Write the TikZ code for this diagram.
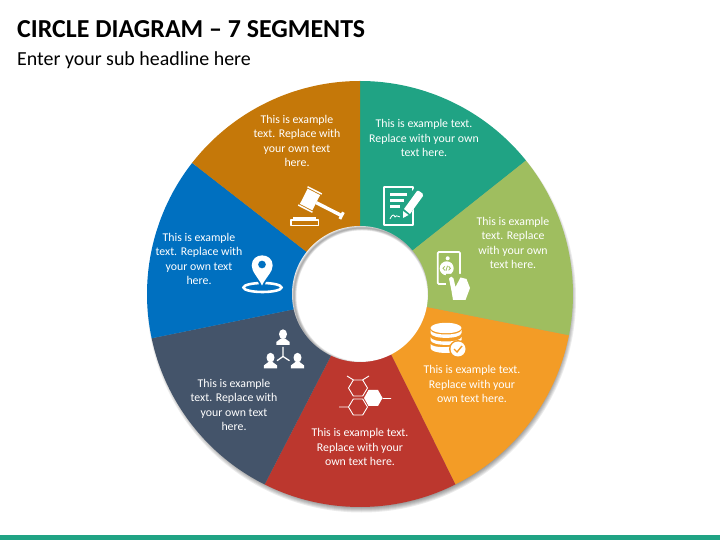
\documentclass[tikz,border=0pt]{standalone}
\usepackage{fontspec}
\setmainfont{Carlito}
\usetikzlibrary{calc}
\definecolor{segteal}{HTML}{20A384}
\definecolor{seggreen}{HTML}{9FBE5F}
\definecolor{segorange}{HTML}{F39C26}
\definecolor{segred}{HTML}{BC372E}
\definecolor{segnavy}{HTML}{44546A}
\definecolor{segblue}{HTML}{0070C0}
\definecolor{segbrown}{HTML}{C57809}
\tikzset{>=latex,
  seglabel/.style={text=white, align=center, font=\fontsize{10.1}{12.2}\selectfont, inner sep=0pt},
  iconfill/.style={fill=white, draw=none},
  iconline/.style={draw=white, line width=1.1pt, line join=round}}
\begin{document}
\begin{tikzpicture}[x=0.03cm, y=-0.03cm]
\useasboundingbox (0,0) rectangle (720,540);
\coordinate (ctr) at (360,294);
% title and bar
\node[anchor=west, inner sep=0pt, font=\fontsize{22.1}{26}\selectfont\bfseries] (title) at (17,29) {CIRCLE DIAGRAM -- 7 SEGMENTS};
\node[anchor=west, inner sep=0pt, font=\fontsize{17}{20}\selectfont] (subtitle) at (17,60) {Enter your sub headline here};
\fill[segteal] (0,534.5) rectangle (720,540);
% soft shadow of the ring
\foreach \i in {0,...,5}
  \fill[black, opacity=0.08] (361.5,298) circle (209.5+\i);
% the seven segments
\foreach \ao/\ai/\bo/\bi/\col in {90/90/38.8/40/segteal, 38.8/40/-11.2/-11/seggreen, -11.2/-11/-63.4/-62.5/segorange, -63.4/-62.5/-116.6/-114.4/segred, -116.6/-114.4/-168/-166.4/segnavy, -168/-166.4/-218/-218.4/segblue, -218/-218.4/-270/-270/segbrown}
  \fill[\col] ($(ctr)+(\ai:50 and -50)$) -- ($(ctr)+(\ao:213 and -213)$) arc[start angle=\ao, end angle=\bo, x radius=213, y radius=-213] -- ($(ctr)+(\bi:50 and -50)$) -- cycle;
% hole with inner shadow
\fill[white] (ctr) circle (68);
\begin{scope}
\clip (ctr) circle (68);
\foreach \i in {1,...,5}
  \draw[black, opacity=0.07, line width=\i*0.85pt] (362,296) circle (68);
\end{scope}
% gavel
\begin{scope}[shift={(310,199.5)}, rotate=-27]
  \fill[iconfill] (-7,-8.5) rectangle (7,8.5);
  \fill[iconfill] (-8,-11) rectangle (8,-9.5);
  \fill[iconfill] (-8,9.5) rectangle (8,11);
  \fill[iconfill] (7,-1.7) rectangle (35,1.7);
  \fill[iconfill] (34,-3.8) rectangle (37,3.8);
\end{scope}
\fill[iconfill] (292.7,216.7) rectangle (316,220);
\draw[iconline] (291,220) rectangle (318.5,225.5);
% document and pencil
\draw[iconline, line width=1.7pt, rounded corners=0.5pt] (384,187) rectangle (413,225);
\fill[iconfill] (390,193) rectangle (407,196);
\fill[iconfill] (390,199) rectangle (404,202);
\fill[iconfill] (390,205) rectangle (400,208);
\draw[white, line width=0.7pt] (390,219) .. controls (393,213) and (394,215) .. (395,217) .. controls (397,214) and (398,218) .. (404,217);
\fill[segteal] (425,190) -- (408,218) -- (400,220) -- (400,207) -- (416,186) -- cycle;
\fill[iconfill] (419,191) -- (422.5,193.5) -- (423,196) -- (410,214) -- (404,209) -- (417,191) -- cycle;
\fill[iconfill] (403,211) -- (408.5,215) -- (403,218) -- cycle;
% money in hand
\draw[iconline, line width=1.6pt, rounded corners=1pt] (437.7,252) rectangle (460,284);
\fill[iconfill] (447.7,258.3) circle (2);
\fill[iconfill] (446.7,268.3) circle (7);
\draw[seggreen, line width=0.7pt] (444.8,266.3) -- (443,268.3) -- (444.8,270.3) (448.6,266.3) -- (450.4,268.3) -- (448.6,270.3) (447.5,265.8) -- (445.9,270.8);
\fill[seggreen] (446,274) -- (468,274) -- (472,302) -- (446,302) -- cycle;
\fill[iconfill] (449,278.5) .. controls (449.5,276) and (453,276) .. (453.5,278.5) -- (455.5,287) -- (460.5,277.5) -- (466.5,279) -- (470,288) -- (465.5,300) -- (453,300) -- (451.5,291) -- cycle;
% location pin
\draw[white, line width=2.2pt] (262.5,287.5) ellipse (19 and 4.5);
\fill[segblue] (255,272) -- (269,272) -- (263.5,289) -- (260.5,289) -- cycle;
\fill[iconfill, even odd rule] (262,285.5) .. controls (258,277) and (251.7,272) .. (251.7,265.5) .. controls (251.7,252) and (272.7,252) .. (272.7,265.5) .. controls (272.7,272) and (266,277) .. (262,285.5) -- cycle (262,264.5) circle (4);
% three people
\foreach \px/\py in {283/329.5, 270.5/353, 297.5/353} {
  \fill[iconfill] (\px,\py+4.7) ellipse (4 and 4.9);
  \fill[iconfill] (\px-6.7,\py+15.5) -- (\px-6.7,\py+12.5) -- (\px-2,\py+9) -- (\px+2,\py+9) -- (\px+6.7,\py+12.5) -- (\px+6.7,\py+15.5) -- cycle;
}
\draw[white, line width=1.1pt] (283,347) -- (283,356.5) -- (277,360.7) (283,356.5) -- (289.5,360.7);
% database with check badge
\begin{scope}[iconfill]
  \fill (446,328) ellipse (15.5 and 5.2);
  \fill (430.5,330) -- (430.5,333) .. controls (431,339.5) and (461,339.5) .. (461.5,333) -- (461.5,330) .. controls (461,336) and (431,336) .. (430.5,330) -- cycle;
  \fill (430.5,337) -- (430.5,340) .. controls (431,346.5) and (461,346.5) .. (461.5,340) -- (461.5,337) .. controls (461,343) and (431,343) .. (430.5,337) -- cycle;
  \fill (430.5,344) -- (430.5,348) .. controls (431,354) and (455,354.5) .. (459,350) -- (459,345) .. controls (450,348) and (433,348) .. (430.5,344) -- cycle;
\end{scope}
\fill[segorange] (458,349) circle (9);
\fill[iconfill] (458,349) circle (7.5);
\draw[segorange, line width=1.2pt] (454,349) -- (457,352) -- (462,346);
% hexagons
\foreach \hx/\hy in {358/388, 358/407}
  \draw[white, line width=0.8pt] (\hx-9.5,\hy) -- (\hx-4.7,\hy-8) -- (\hx+4.7,\hy-8) -- (\hx+9.5,\hy) -- (\hx+4.7,\hy+8) -- (\hx-4.7,\hy+8) -- cycle;
\fill[iconfill] (364,398) -- (368.5,390) -- (378,390) -- (382.5,398) -- (378,406) -- (368.5,406) -- cycle;
\draw[white, line width=0.8pt] (353.5,380) -- (347,376) (362.5,380) -- (369,376) (382.5,398.5) -- (391,398.5) (348.5,407) -- (339,407);
% labels
\node[seglabel] (lblteal) at (424,138) {This is example text.\\Replace with your own\\text here.};
\node[seglabel] (lblgreen) at (513,243) {This is example\\text. Replace\\with your own\\text here.};
\node[seglabel] (lblorange) at (472,384) {This is example text.\\Replace with your\\own text here.};
\node[seglabel] (lblred) at (360,447) {This is example text.\\Replace with your\\own text here.};
\node[seglabel] (lblnavy) at (234,405) {This is example\\text. Replace with\\your own text\\here.};
\node[seglabel] (lblblue) at (199,259) {This is example\\text. Replace with\\your own text\\here.};
\node[seglabel] (lblbrown) at (297,141) {This is example\\text. Replace with\\your own text\\here.};
\end{tikzpicture}
\end{document}
